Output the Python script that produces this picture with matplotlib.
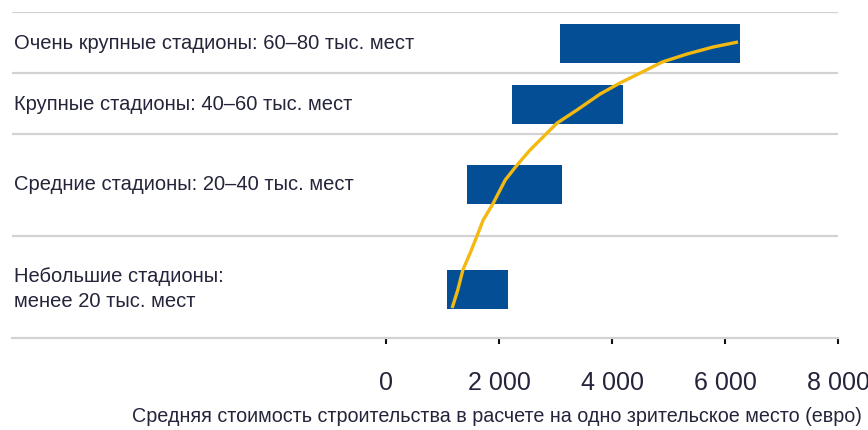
import matplotlib
matplotlib.use("Agg")
import matplotlib.pyplot as plt
import matplotlib.ticker as mticker

# ── Data ────────────────────────────────────────────────────────────────────
categories = [
    "Очень крупные стадионы: 60–80 тыс. мест",
    "Крупные стадионы: 40–60 тыс. мест",
    "Средние стадионы: 20–40 тыс. мест",
    "Небольшие стадионы:\nменее 20 тыс. мест",
]
cost_low = [3080, 2230, 1430, 1080]     # euro per seat, start of range
cost_high = [6260, 4200, 3120, 2160]    # euro per seat, end of range

# yellow trend curve (cost, row-position)
curve_cost = [1170, 1270, 1360, 1490, 1610, 1720, 1890, 2110, 2320, 2550,
              2850, 3030, 3380, 3790, 4140, 4500, 4890, 5330, 5790, 6230]
curve_pos = [296, 278, 258, 241, 224, 208, 192, 168, 153, 138,
             121, 111, 98, 82, 71, 61, 50, 42, 35, 30]

x_ticks = [0, 2000, 4000, 6000, 8000]
x_label = "Средняя стоимость строительства в расчете на одно зрительское место (евро)"

# ── Layout ──────────────────────────────────────────────────────────────────
row_centers = [31.5, 92.5, 172.5, 277]
row_edges = [0, 61, 122, 224, 326]
BAR_H = 39
X_MIN, X_MAX = -6620, 8000

BLUE = "#034e95"
YELLOW = "#f4b910"
GRID = "#d2d2d2"
TEXT = "#24243a"
plt.rcParams["font.family"] = ["Liberation Sans Narrow", "Liberation Sans", "DejaVu Sans"]

fig = plt.figure(figsize=(8.68, 4.30), dpi=100)
ax = fig.add_axes([12 / 868, 1 - 338 / 430, (838 - 12) / 868, (338 - 12) / 430])

widths = [h - l for l, h in zip(cost_low, cost_high)]
ax.barh(row_centers, widths, left=cost_low, height=BAR_H, color=BLUE, zorder=2)
ax.plot(curve_cost, curve_pos, color=YELLOW, linewidth=2.4, zorder=3,
        solid_capstyle="butt", solid_joinstyle="round")

for y in row_edges[:-1]:
    ax.axhline(y, color=GRID, linewidth=1.6, zorder=1)

for y, label in zip(row_centers, categories):
    ax.text(X_MIN + 40, y, label, ha="left", va="center", fontsize=14.5,
            color=TEXT, linespacing=1.35)

ax.set_xlim(X_MIN, X_MAX)
ax.set_ylim(row_edges[-1], row_edges[0])
ax.set_xticks(x_ticks)
ax.xaxis.set_major_formatter(
    mticker.FuncFormatter(lambda v, _: f"{v:,.0f}".replace(",", " ")))
ax.tick_params(axis="x", direction="out", length=4, width=1.5, color="#111111",
               labelsize=18, labelcolor=TEXT, pad=19.5)
ax.set_yticks([])
for side in ["top", "left", "right"]:
    ax.spines[side].set_visible(False)
ax.spines["bottom"].set_color(GRID)
ax.spines["bottom"].set_linewidth(1.6)

fig.text(862 / 868, 1 - 416 / 430, x_label, ha="right", va="center",
         fontsize=14.2, color=TEXT)

fig.savefig("out.png", dpi=100)
